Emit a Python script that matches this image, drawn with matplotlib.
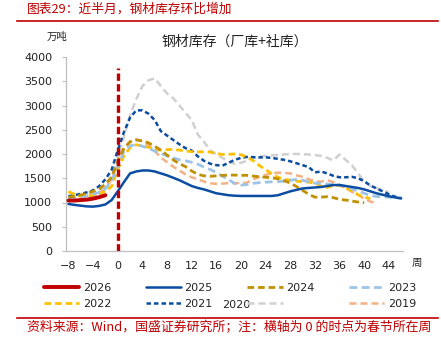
import numpy as np
import matplotlib
matplotlib.use("Agg")
import matplotlib.pyplot as plt
from matplotlib.lines import Line2D

CJK = ['Noto Sans CJK SC', 'DejaVu Sans']
plt.rcParams['font.family'] = ['DejaVu Sans']

# Weekly steel inventory (10k tonnes); week 0 = Spring Festival week, series start at week -8
start_week = -8
inv_2026 = [1040, 1040, 1050, 1060, 1080, 1110, 1150]
inv_2025 = [970, 950, 935, 920, 915, 930, 960, 1050, 1230, 1420, 1600, 1640, 1660, 1660,
            1640, 1600, 1560, 1510, 1460, 1400, 1340, 1300, 1270, 1230, 1190, 1170, 1150,
            1140, 1135, 1135, 1135, 1135, 1135, 1135, 1150, 1190, 1230, 1260, 1290, 1300,
            1310, 1320, 1340, 1360, 1360, 1340, 1320, 1300, 1270, 1230, 1190, 1160, 1130,
            1105, 1085]
inv_2024 = [1110, 1130, 1155, 1190, 1230, 1280, 1380, 1520, 1850, 2120, 2250, 2290, 2270,
            2230, 2160, 2080, 1980, 1880, 1800, 1740, 1650, 1580, 1550, 1540, 1550, 1560,
            1565, 1565, 1560, 1560, 1545, 1530, 1520, 1510, 1490, 1450, 1400, 1330, 1250,
            1170, 1110, 1110, 1120, 1100, 1065, 1050, 1030, 1010, 995]
inv_2023 = [1085, 1090, 1110, 1140, 1170, 1210, 1280, 1450, 1750, 2050, 2170, 2190, 2160,
            2120, 2060, 2010, 1960, 1920, 1880, 1860, 1830, 1790, 1730, 1680, 1620, 1540,
            1470, 1390, 1360, 1370, 1395, 1410, 1420, 1425, 1430, 1440, 1460, 1475, 1460,
            1420, 1400, 1390, 1380, 1370, 1360, 1330, 1280, 1240, 1190, 1145, 1125, 1115,
            1110, 1100, 1090]
inv_2022 = [1225, 1170, 1125, 1130, 1150, 1180, 1230, 1330, 1680, 1960, 2130, 2190, 2170,
            2140, 2090, 2080, 2090, 2095, 2080, 2060, 2050, 2045, 2045, 2040, 2010, 1990,
            1995, 2000, 1985, 1940, 1860, 1760, 1680, 1590, 1520, 1480, 1460, 1440, 1430,
            1420, 1400, 1340, 1310, 1350, 1350, 1300, 1240, 1160, 1110, 1080]
inv_2021 = [1130, 1150, 1180, 1210, 1250, 1340, 1480, 1670, 2080, 2450, 2750, 2900, 2900,
            2830, 2700, 2470, 2380, 2290, 2200, 2120, 2070, 1950, 1860, 1800, 1770, 1760,
            1820, 1880, 1920, 1940, 1935, 1930, 1930, 1920, 1900, 1880, 1850, 1810, 1770,
            1730, 1620, 1640, 1600, 1550, 1520, 1520, 1530, 1500, 1440, 1350, 1290, 1230,
            1170, 1120, 1090]
inv_2020 = [1065, 1080, 1110, 1150, 1190, 1250, 1340, 1530, 1900, 2350, 2800, 3130, 3400,
            3520, 3560, 3400, 3250, 3150, 3000, 2850, 2700, 2400, 2250, 2080, 1990, 1920,
            1840, 1800, 1820, 1860, 1920, 1950, 1960, 1970, 1980, 1990, 2000, 2000, 1995,
            1990, 1980, 1960, 1920, 1870, 1990, 1880, 1770, 1600, 1440, 1340, 1300, 1250,
            1210]
inv_2019 = [1050, 1055, 1060, 1080, 1120, 1200, 1300, 1480, 1820, 2100, 2260, 2300, 2260,
            2180, 2060, 1930, 1830, 1740, 1660, 1580, 1520, 1480, 1430, 1395, 1385, 1390,
            1400, 1400, 1400, 1410, 1480, 1530, 1570, 1600, 1615, 1610, 1600, 1560, 1530,
            1480, 1440, 1430, 1460, 1420, 1360, 1300, 1220, 1160, 1080, 1020, 985]

x_ticks = list(range(-8, 45, 4))
y_ticks = list(range(0, 4001, 500))
festival_line_top = 3780

RED = '#C00000'
styles = {
    '2019': dict(color='#F4B183', lw=1.8, ls=(0, (2.8, 1.6))),
    '2020': dict(color='#D0D0D0', lw=1.8, ls=(0, (2.8, 1.6))),
    '2021': dict(color='#0B4DA2', lw=1.8, ls=(0, (1.8, 1.2))),
    '2022': dict(color='#FFC000', lw=2.0, ls=(0, (2.4, 1.4))),
    '2023': dict(color='#9DC3E6', lw=2.0, ls=(0, (2.8, 1.6))),
    '2024': dict(color='#BF9000', lw=2.0, ls=(0, (2.4, 1.4))),
    '2025': dict(color='#0B4DA2', lw=1.8, ls='-'),
    '2026': dict(color=RED, lw=2.8, ls='-'),
}
series = {'2019': inv_2019, '2020': inv_2020, '2021': inv_2021, '2022': inv_2022,
          '2023': inv_2023, '2024': inv_2024, '2025': inv_2025, '2026': inv_2026}

fig = plt.figure(figsize=(4.41, 3.38), dpi=100)
ax = fig.add_axes([66 / 441, 1 - 251 / 338, 337 / 441, 194 / 338])

lines = {}
for name, vals in series.items():
    wk = np.arange(start_week, start_week + len(vals))
    st = styles[name]
    ln, = ax.plot(wk, vals, color=st['color'], lw=st['lw'], linestyle=st['ls'],
                  solid_capstyle='round', solid_joinstyle='round',
                  zorder=3 if name not in ('2025', '2026') else 4)
    lines[name] = ln

ax.plot([0, 0], [0, festival_line_top], color=RED, lw=2.4, linestyle=(0, (2.2, 1.0)), zorder=5)

ax.set_xlim(-8.4, 46.3)
ax.set_ylim(0, 4000)
ax.set_xticks(x_ticks)
ax.set_yticks(y_ticks)
ax.tick_params(axis='x', length=0, pad=7, labelsize=8, colors='#222222')
ax.tick_params(axis='y', length=3, pad=7, labelsize=8, colors='#222222', color='#BFBFBF')
for s in ('top', 'right'):
    ax.spines[s].set_visible(False)
for s in ('left', 'bottom'):
    ax.spines[s].set_color('#BFBFBF')
    ax.spines[s].set_linewidth(0.9)

ax.set_title('钢材库存（厂库+社库）', family=CJK, fontsize=10, pad=8, color='#222222')
fig.text(47 / 441, 1 - 37 / 338, '万吨', family=CJK, fontsize=7.5, ha='left', va='center',
         color='#222222')
fig.text(417 / 441, 1 - 263 / 338, '周', family=CJK, fontsize=7.5, ha='center', va='center',
         color='#222222')

# Legend: column-major fill, so order entries to read row-wise
order = ['2026', '2022', '2025', '2021', '2024', '2020', '2023', '2019']
handles = [lines[k] for k in order]
labels = [k if k != '2020' else '' for k in order]
leg = fig.legend(handles, labels, loc='center', bbox_to_anchor=(230 / 441, 1 - 296 / 338),
                 ncol=4, frameon=False, fontsize=8, handlelength=3.2, handletextpad=0.3,
                 columnspacing=3.1, labelspacing=0.55)
for t in leg.get_texts():
    t.set_color('#222222')
fig.text(250 / 441, 1 - 305 / 338, '2020', fontsize=8, ha='right', va='center', color='#222222')

# Header, rules and source note
fig.text(27 / 441, 1 - 9 / 338, '图表29：近半月，钢材库存环比增加', family=CJK, fontsize=9.2,
         color=RED, ha='left', va='center', style='italic')
fig.add_artist(Line2D([17 / 441, 438 / 441], [1 - 21 / 338, 1 - 21 / 338], color=RED, lw=1.2))
fig.add_artist(Line2D([17 / 441, 438 / 441], [1 - 318 / 338, 1 - 318 / 338], color=RED, lw=1.2))
fig.text(27 / 441, 1 - 328 / 338, '资料来源：Wind，国盛证券研究所；注：横轴为 0 的时点为春节所在周',
         family=CJK, fontsize=9.3, color=RED, ha='left', va='center', style='italic')

fig.savefig('out.png', dpi=100)
